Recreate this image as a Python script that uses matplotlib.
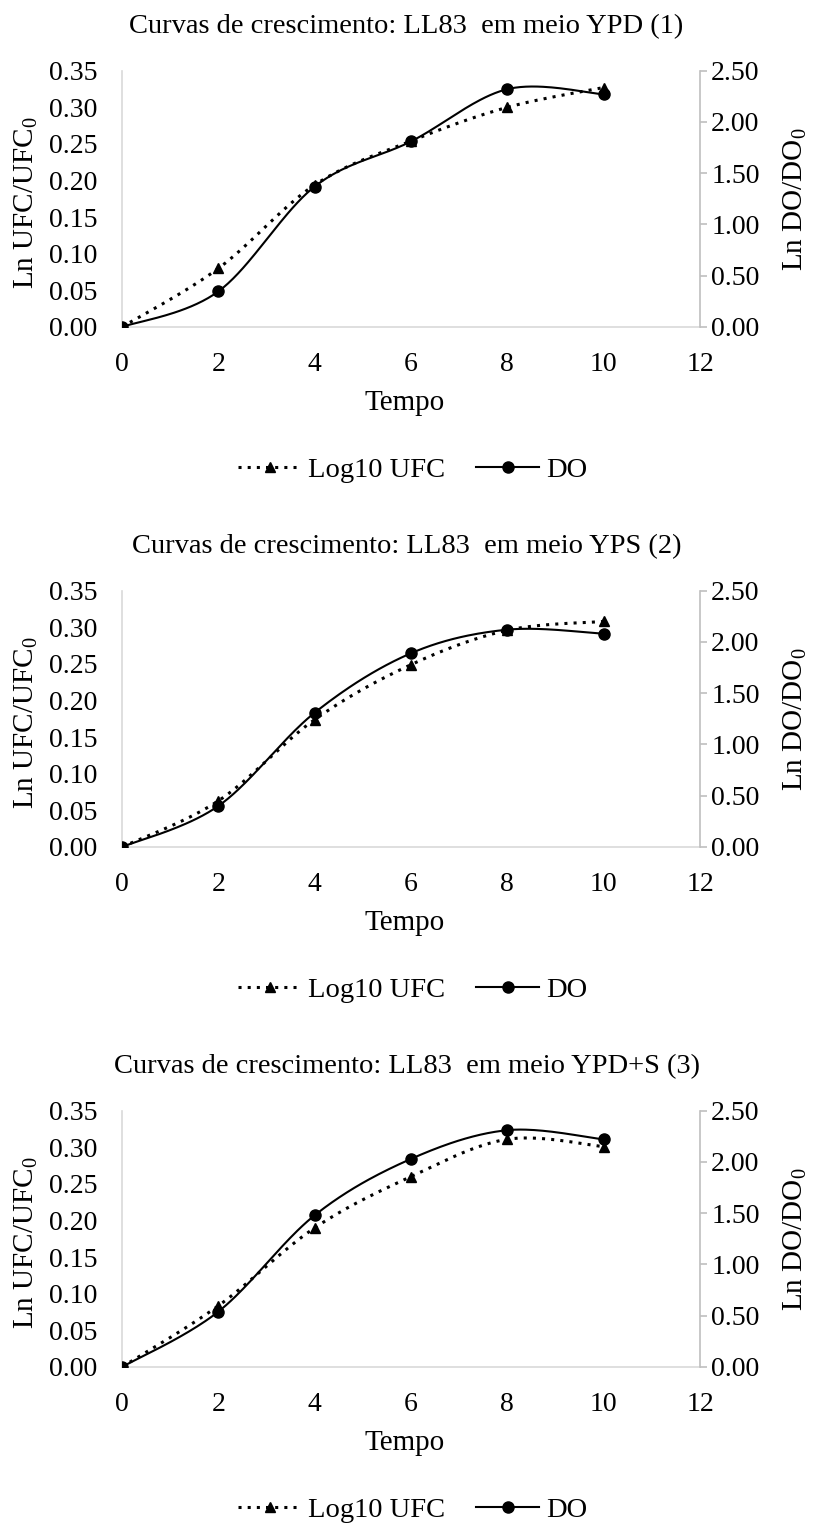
import numpy as np
import matplotlib
matplotlib.use("Agg")
import matplotlib.pyplot as plt
from matplotlib.lines import Line2D

plt.rcParams['font.family'] = ['Liberation Serif', 'DejaVu Serif']
plt.rcParams['mathtext.fontset'] = 'custom'
plt.rcParams['mathtext.rm'] = 'Liberation Serif'
plt.rcParams['mathtext.it'] = 'Liberation Serif'

# ---- data ----
tempo = [0, 2, 4, 6, 8, 10]
titles = ["Curvas de crescimento: LL83  em meio YPD (1)",
          "Curvas de crescimento: LL83  em meio YPS (2)",
          "Curvas de crescimento: LL83  em meio YPD+S (3)"]
ufc_ypd = [0.0, 0.080, 0.194, 0.254, 0.300, 0.327]
do_ypd = [0.0, 0.347, 1.37, 1.81, 2.32, 2.27]
ufc_yps = [0.0, 0.063, 0.174, 0.249, 0.296, 0.308]
do_yps = [0.0, 0.40, 1.31, 1.89, 2.12, 2.08]
ufc_ypds = [0.0, 0.0836, 0.190, 0.260, 0.311, 0.301]
do_ypds = [0.0, 0.54, 1.48, 2.03, 2.31, 2.22]
x_ticks = [0, 2, 4, 6, 8, 10, 12]
left_ticks = [0.00, 0.05, 0.10, 0.15, 0.20, 0.25, 0.30, 0.35]
right_ticks = [0.00, 0.50, 1.00, 1.50, 2.00, 2.50]
series_names = ["Log10 UFC", "DO"]


def smooth(x, y, n=40):
    """Excel-like smoothed curve (Catmull-Rom Bezier) through the data points."""
    x = np.asarray(x, float)
    y = np.asarray(y, float)
    P = np.column_stack([x, y])
    Pp = np.vstack([P[0], P, P[-1]])
    out = []
    t = np.linspace(0, 1, n)[:, None]
    for i in range(len(P) - 1):
        p0, p1, p2, p3 = Pp[i], Pp[i + 1], Pp[i + 2], Pp[i + 3]
        c1 = p1 + (p2 - p0) / 6.0
        c2 = p2 - (p3 - p1) / 6.0
        seg = ((1 - t) ** 3) * p1 + 3 * ((1 - t) ** 2) * t * c1 + 3 * (1 - t) * t ** 2 * c2 + t ** 3 * p2
        out.append(seg if i == 0 else seg[1:])
    out = np.vstack(out)
    return out[:, 0], out[:, 1]


W, H = 813, 1526
fig = plt.figure(figsize=(W / 100, H / 100), dpi=100)

FS = 20
GRAY = '#bfbfbf'
panels = [(ufc_ypd, do_ypd), (ufc_yps, do_yps), (ufc_ypds, do_ypds)]
tops = [70.7, 590.7, 1110.7]
bottoms = [327, 847, 1367]
title_base = [33, 553, 1073]
dotted = (0, (1, 2.0))


def fy(px):
    return 1 - px / H


for k, (ufc, do) in enumerate(panels):
    left_px, right_px = 122, 700
    ax = fig.add_axes([left_px / W, 1 - bottoms[k] / H, (right_px - left_px) / W,
                       (bottoms[k] - tops[k]) / H])
    ax2 = ax.twinx()
    ax.set_facecolor('none')

    xs, ys = smooth(tempo, ufc)
    ax.plot(xs, ys, color='black', lw=2.2, linestyle=dotted)
    ax.plot(tempo, ufc, linestyle='none', marker='^', color='black', markersize=6.5)

    xs2, ys2 = smooth(tempo, do)
    ax2.plot(xs2, ys2, color='black', lw=1.5)
    ax2.plot(tempo, do, linestyle='none', marker='o', color='black', markersize=8)

    ax.set_xlim(0, 12)
    ax.set_ylim(0, 0.35)
    ax2.set_ylim(0, 2.5)
    ax.set_xticks(x_ticks)
    ax.set_yticks(left_ticks)
    ax.set_yticklabels([f"{v:.2f}" for v in left_ticks])
    ax2.set_yticks(right_ticks)
    ax2.set_yticklabels([f"{v:.2f}" for v in right_ticks])

    for a in (ax, ax2):
        a.spines['top'].set_visible(False)
    ax.spines['right'].set_visible(False)
    ax2.spines['left'].set_visible(False)
    ax2.spines['bottom'].set_visible(False)
    ax.spines['left'].set_color('#d9d9d9')
    ax.spines['bottom'].set_color('#d9d9d9')
    ax2.spines['right'].set_color(GRAY)
    for s in ('left', 'bottom'):
        ax.spines[s].set_linewidth(1.2)
    ax2.spines['right'].set_linewidth(1.2)

    ax.tick_params(axis='x', length=0, pad=18, labelsize=FS)
    ax.tick_params(axis='y', length=0, pad=18, labelsize=FS)
    ax2.tick_params(axis='y', length=5, width=1.2, color=GRAY, pad=3, labelsize=FS, direction='out')

    mid = (tops[k] + bottoms[k]) / 2
    fig.text(26 / W, fy(mid + 4), r"Ln UFC/UFC$_\mathrm{0}$", fontsize=FS + 1,
             rotation=90, ha='center', va='center')
    fig.text(795 / W, fy(mid), r"Ln DO/DO$_\mathrm{0}$", fontsize=FS + 1,
             rotation=90, ha='center', va='center')
    fig.text(405 / W, fy(bottoms[k] + 76), "Tempo", fontsize=FS + 1, ha='center', va='center')

    fig.text(0.5, fy(title_base[k]), titles[k], ha='center', va='baseline', fontsize=FS + 0.5)

    handles = [Line2D([], [], color='black', lw=2.2, linestyle=dotted, marker='^', markersize=6.5),
               Line2D([], [], color='black', lw=1.5, marker='o', markersize=8)]
    ax.legend(handles, series_names, loc='center', bbox_to_anchor=(0.503, -0.559), ncol=2,
              frameon=False, fontsize=FS + 0.5, handlelength=2.2, handletextpad=0.25,
              columnspacing=1.1)

fig.savefig("out.png", dpi=100, facecolor='white')
